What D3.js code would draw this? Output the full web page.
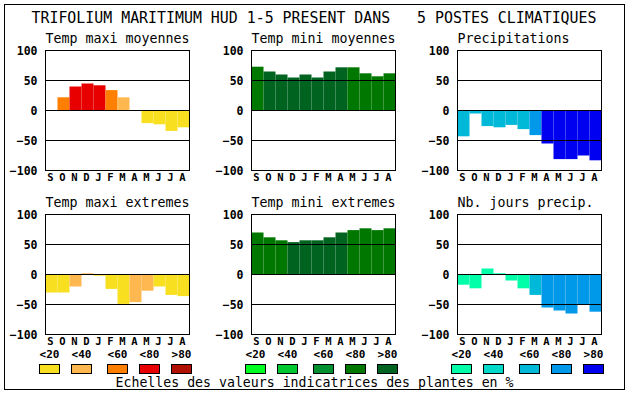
<!DOCTYPE html>
<html><head><meta charset="utf-8">
<script src="https://cdn.jsdelivr.net/npm/d3@7/dist/d3.min.js"></script>
<style>
html,body{margin:0;padding:0;background:#fff;}
svg{display:block;}
text{font-family:"DejaVu Sans Mono",monospace;fill:#000;}
</style></head>
<body>
<svg id="chart" width="630" height="394"></svg>
<script>
// ---- data ----
const title = "TRIFOLIUM MARITIMUM HUD 1-5 PRESENT DANS   5 POSTES CLIMATIQUES";
const footer = "Echelles des valeurs indicatrices des plantes en %";
const months = ["S","O","N","D","J","F","M","A","M","J","J","A"];
const yTicks = [100, 50, 0, -50, -100];
const gridLines = [50, 0, -50];
const legendLabels = ["<20","<40","<60","<80",">80"];

const panelTitles = ["Temp maxi moyennes","Temp mini moyennes","Precipitations",
                     "Temp maxi extremes","Temp mini extremes","Nb. jours precip."];

const tmaxMoyValues   = [0, 22, 40, 45, 42, 34, 22, 0, -21, -23, -34, -28];
const tmaxMoyClasses  = [0, 2, 3, 3, 3, 2, 1, 0, 0, 0, 0, 0];
const tminMoyValues   = [73, 65, 60, 55, 60, 55, 65, 72, 72, 62, 57, 62];
const tminMoyClasses  = [3, 4, 4, 4, 4, 4, 4, 4, 3, 3, 3, 3];
const precipValues    = [-43, -5, -26, -28, -24, -31, -41, -55, -81, -81, -75, -83];
const precipClasses   = [2, 2, 2, 2, 2, 2, 3, 4, 4, 4, 4, 4];
const tmaxExtValues   = [-30, -30, -20, 2, -2, -24, -49, -46, -27, -20, -34, -36];
const tmaxExtClasses  = [0, 0, 1, 1, 0, 0, 0, 1, 1, 0, 0, 0];
const tminExtValues   = [70, 62, 57, 54, 57, 57, 62, 70, 74, 77, 74, 77];
const tminExtClasses  = [3, 3, 3, 4, 4, 4, 4, 4, 3, 3, 3, 3];
const nbJoursValues   = [-17, -23, 10, 2, -10, -23, -34, -55, -60, -65, -50, -62];
const nbJoursClasses  = [0, 0, 0, 0, 0, 0, 2, 3, 3, 3, 3, 3];

const warmPalette  = ["#f8e020","#ffb850","#ff8000","#e80000","#b01000"];
const greenPalette = ["#00ff20","#00c830","#009030","#007800","#006420"];
const bluePalette  = ["#00ffa8","#00d8c8","#00b8d8","#0098e8","#0000f0"];

// ---- layout ----
const svg = d3.select("#chart");
svg.append("rect").attr("x",4.5).attr("y",4.5).attr("width",620).attr("height",385)
   .attr("fill","none").attr("stroke","#000").attr("stroke-width",1);

svg.append("text").attr("x",31.5).attr("y",23).attr("font-size",15)
   .attr("textLength",565).attr("lengthAdjust","spacingAndGlyphs")
   .attr("xml:space","preserve").style("white-space","pre").text(title);

const colLefts = [45.5, 251.5, 457.5];
const rowTops = [50.5, 214.5];
const plotW = 144, plotH = 120;

const panels = [
  {values: tmaxMoyValues, classes: tmaxMoyClasses, palette: warmPalette},
  {values: tminMoyValues, classes: tminMoyClasses, palette: greenPalette},
  {values: precipValues,  classes: precipClasses,  palette: bluePalette},
  {values: tmaxExtValues, classes: tmaxExtClasses, palette: warmPalette},
  {values: tminExtValues, classes: tminExtClasses, palette: greenPalette},
  {values: nbJoursValues, classes: nbJoursClasses, palette: bluePalette}
];

panels.forEach((p, k) => {
  const col = k % 3, row = Math.floor(k / 3);
  const left = colLefts[col], top = rowTops[row];
  const x = d3.scaleBand().domain(d3.range(12)).range([left, left + plotW]).padding(0);
  const y = d3.scaleLinear().domain([-100, 100]).range([top + plotH, top]);
  const g = svg.append("g");

  g.append("text").attr("x", left).attr("y", top - 7.5).attr("font-size", 13.3)
    .text(panelTitles[k]);

  g.selectAll("rect.bar").data(p.values).join("rect").attr("class","bar")
    .attr("x", (d,i) => x(i)).attr("width", x.bandwidth())
    .attr("y", d => Math.min(y(d), y(0)))
    .attr("height", d => Math.abs(y(d) - y(0)))
    .attr("fill", (d,i) => p.palette[p.classes[i]]);

  g.selectAll("line.grid").data(gridLines).join("line").attr("class","grid")
    .attr("x1", left).attr("x2", left + plotW)
    .attr("y1", d => y(d)).attr("y2", d => y(d))
    .attr("stroke","#000").attr("stroke-width",1);

  g.append("rect").attr("x", left).attr("y", top).attr("width", plotW).attr("height", plotH)
    .attr("fill","none").attr("stroke","#000").attr("stroke-width",1);

  const yAxis = d3.axisLeft(y).tickValues(yTicks).tickSize(0).tickPadding(8);
  const ya = g.append("g").attr("transform", `translate(${left},0)`).call(yAxis);
  ya.select(".domain").remove();
  ya.selectAll("text").attr("font-size", 11.5).attr("font-weight","bold")
    .attr("font-family","DejaVu Sans Mono").attr("fill","#000").attr("dy","0.36em");

  const xAxis = d3.axisBottom(x).tickSize(0).tickPadding(0).tickFormat(i => months[i]);
  const xa = g.append("g").attr("transform", `translate(-1,${top + plotH})`).call(xAxis);
  xa.select(".domain").remove();
  xa.selectAll("text").attr("font-size", 10.5).attr("font-weight","bold")
    .attr("font-family","DejaVu Sans Mono").attr("fill","#000")
    .attr("dy", null).attr("y", 10.5);

  if (row === 1) {
    const boxOffsets = [-6, 26, 62, 94, 126];
    const lg = g.append("g");
    lg.selectAll("text.leg").data(legendLabels).join("text").attr("class","leg")
      .attr("x", (d,i) => left + boxOffsets[i] + 10).attr("y", 358)
      .attr("text-anchor","middle").attr("font-size",11).attr("font-weight","bold")
      .text(d => d);
    lg.selectAll("rect.leg").data(p.palette).join("rect").attr("class","leg")
      .attr("x", (d,i) => left + boxOffsets[i]).attr("y", 364.5)
      .attr("width", 20).attr("height", 9)
      .attr("fill", d => d).attr("stroke","#000").attr("stroke-width",1);
  }
});

svg.append("text").attr("x",115.5).attr("y",387).attr("font-size",13.3)
   .attr("textLength",398).attr("lengthAdjust","spacingAndGlyphs").text(footer);
</script>
</body></html>
